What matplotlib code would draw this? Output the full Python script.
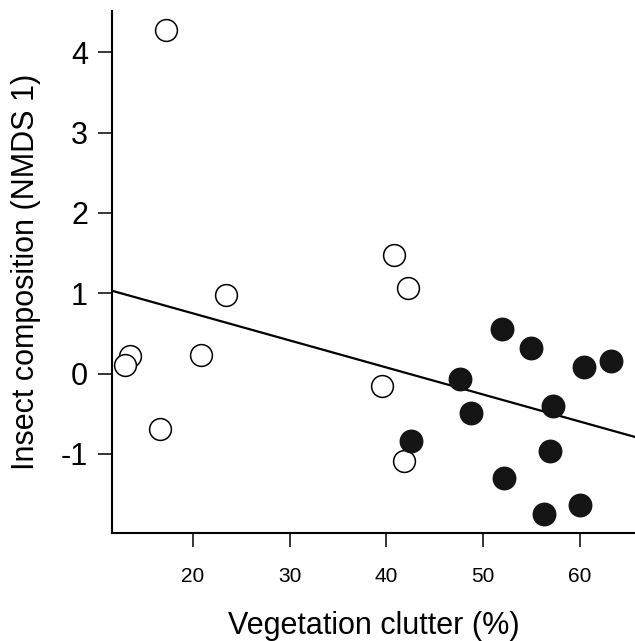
import numpy as np
import matplotlib
matplotlib.use("Agg")
import matplotlib.pyplot as plt

plt.rcParams['font.family'] = ['Liberation Sans', 'DejaVu Sans']

# Open circles (low-clutter sites)
open_x = [17.2, 23.4, 13.5, 13.0, 20.8, 16.6, 40.8, 42.2, 39.5, 41.8]
open_y = [4.28, 0.98, 0.22, 0.10, 0.235, -0.69, 1.48, 1.06, -0.16, -1.085]

# Filled circles (high-clutter sites)
filled_x = [42.5, 51.9, 54.9, 60.4, 63.2, 47.6, 48.7, 57.2, 56.9, 52.2, 56.3, 60.0]
filled_y = [-0.84, 0.555, 0.32, 0.08, 0.15, -0.067, -0.495, -0.40, -0.96, -1.30, -1.745, -1.64]

# Fitted regression line
fit_intercept = 1.422
fit_slope = -0.03367

x_ticks = [20, 30, 40, 50, 60]
y_ticks = [-1, 0, 1, 2, 3, 4]

fig = plt.figure(figsize=(6.35, 6.41), dpi=100)
ax = fig.add_axes([0.1769, 0.168, 0.8231, 0.8155])

xlim = (11.65, 65.7)
ylim = (-1.99, 4.52)

xs = np.array(xlim)
ax.plot(xs, fit_intercept + fit_slope * xs, color='black', lw=1.6, zorder=1)

ax.plot(open_x, open_y, 'o', ms=15.7, mfc='white', mec='black', mew=1.1, zorder=3)
ax.plot(filled_x, filled_y, 'o', ms=16.2, mfc='#141414', mec='#141414', mew=1.0, zorder=3)

ax.set_xlim(xlim)
ax.set_ylim(ylim)
ax.set_xticks(x_ticks)
ax.set_yticks(y_ticks)
ax.set_yticklabels([str(v) if v >= 0 else '-' + str(-v) for v in y_ticks])

for s in ['top', 'right']:
    ax.spines[s].set_visible(False)
for s in ['left', 'bottom']:
    ax.spines[s].set_linewidth(1.5)

ax.tick_params(axis='x', length=10, width=1.1, labelsize=15, pad=14)
ax.tick_params(axis='y', length=10, width=1.1, labelsize=22, pad=7.5)

ax.set_xlabel('Vegetation clutter (%)', fontsize=22, labelpad=18)
ax.set_ylabel('Insect composition (NMDS 1)', fontsize=22, labelpad=14)

fig.savefig('out.png', dpi=100)
